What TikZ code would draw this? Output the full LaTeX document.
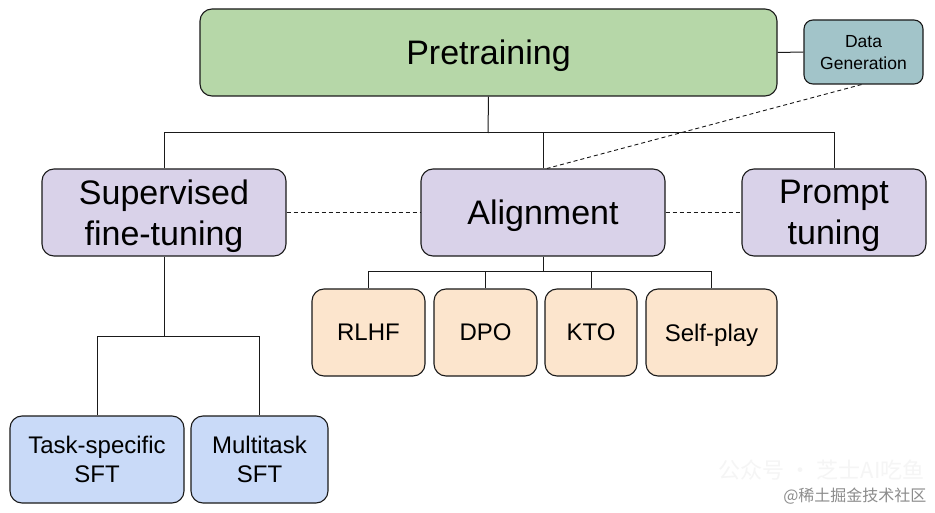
\documentclass[tikz,border=0pt]{standalone}
\usepackage{fontspec}
\setmainfont{Liberation Sans}
\newfontfamily\cjk{Noto Sans CJK SC}
\definecolor{cgreen}{HTML}{B6D7A8}
\definecolor{cteal}{HTML}{A2C4C9}
\definecolor{cpurple}{HTML}{D9D2E9}
\definecolor{corange}{HTML}{FCE5CD}
\definecolor{cblue}{HTML}{C9DAF8}
\definecolor{cline}{HTML}{1A1A1A}
\begin{document}
\begin{tikzpicture}[x=1pt,y=-1pt,
  box/.style={draw=cline,line width=1.1pt,rounded corners=12pt,align=center,inner sep=0pt,minimum height=87pt,text depth=0pt},
  big/.style={font=\fontsize{34}{41}\selectfont},
  mid/.style={font=\fontsize{24}{29}\selectfont},
  small/.style={font=\fontsize{17.5}{22}\selectfont},
  conn/.style={draw=cline,line width=1pt},
  dconn/.style={draw=cline,line width=0.9pt,dash pattern=on 4pt off 3pt}]
\useasboundingbox[fill=white] (0,0) rectangle (935,513);
% main nodes
\node[box,big,fill=cgreen,minimum width=577pt] (pre) at (488.5,52.5) {Pretraining};
\node[box,small,fill=cteal,minimum width=119pt,minimum height=64pt,rounded corners=9pt] (dg) at (863.5,52) {Data\\Generation};
\node[box,big,fill=cpurple,minimum width=244pt] (sft) at (164,212.5) {Supervised\\fine-tuning};
\node[box,big,fill=cpurple,minimum width=244pt] (al) at (543,212.5) {Alignment};
\node[box,big,fill=cpurple,minimum width=184pt] (pt) at (834,212.5) {Prompt\\tuning};
\node[box,mid,fill=corange,minimum width=113pt] (rlhf) at (368.5,332.5) {RLHF};
\node[box,mid,fill=corange,minimum width=103pt] (dpo) at (485.5,332.5) {DPO};
\node[box,mid,fill=corange,minimum width=92pt] (kto) at (591,332.5) {KTO};
\node[box,mid,fill=corange,minimum width=131pt] (sp) at (711.5,332.5) {Self-play};
\node[box,mid,fill=cblue,minimum width=174pt] (ts) at (97,459.5) {Task-specific\\SFT};
\node[box,mid,fill=cblue,minimum width=137pt] (mt) at (259.5,459.5) {Multitask\\SFT};
% junctions
\coordinate (j1) at (488,133);
\coordinate (j2) at (543,272);
\coordinate (j3) at (164,336);
% tree connectors
\draw[conn] (pre.east) -- (dg.west);
\draw[conn] (pre.south) -- (j1);
\draw[conn] (sft.north) -- (sft.north |- j1) -- (pt.north |- j1) -- (pt.north);
\draw[conn] (al.north) -- (al.north |- j1);
\draw[conn] (al.south) -- (j2);
\draw[conn] (rlhf.north) -- (rlhf.north |- j2) -- (sp.north |- j2) -- (sp.north);
\draw[conn] (dpo.north) -- (dpo.north |- j2);
\draw[conn] (kto.north) -- (kto.north |- j2);
\draw[conn] (sft.south) -- (j3);
\draw[conn] (ts.north) -- (ts.north |- j3) -- (mt.north |- j3) -- (mt.north);
% dashed links
\draw[dconn] (sft.east) -- (al.west);
\draw[dconn] (al.east) -- (pt.west);
\draw[dconn] ([xshift=-2pt]dg.south) -- ([xshift=4pt]al.north);
% watermark
\node[font=\cjk\fontsize{22}{22}\selectfont,text=black!4,anchor=east] (wm1) at (928,470) {公众号 · 芝士AI吃鱼};
\node[font=\cjk\fontsize{16}{16}\selectfont,text=black!45,anchor=east] (wm2) at (930,496) {@稀土掘金技术社区};
\end{tikzpicture}
\end{document}
